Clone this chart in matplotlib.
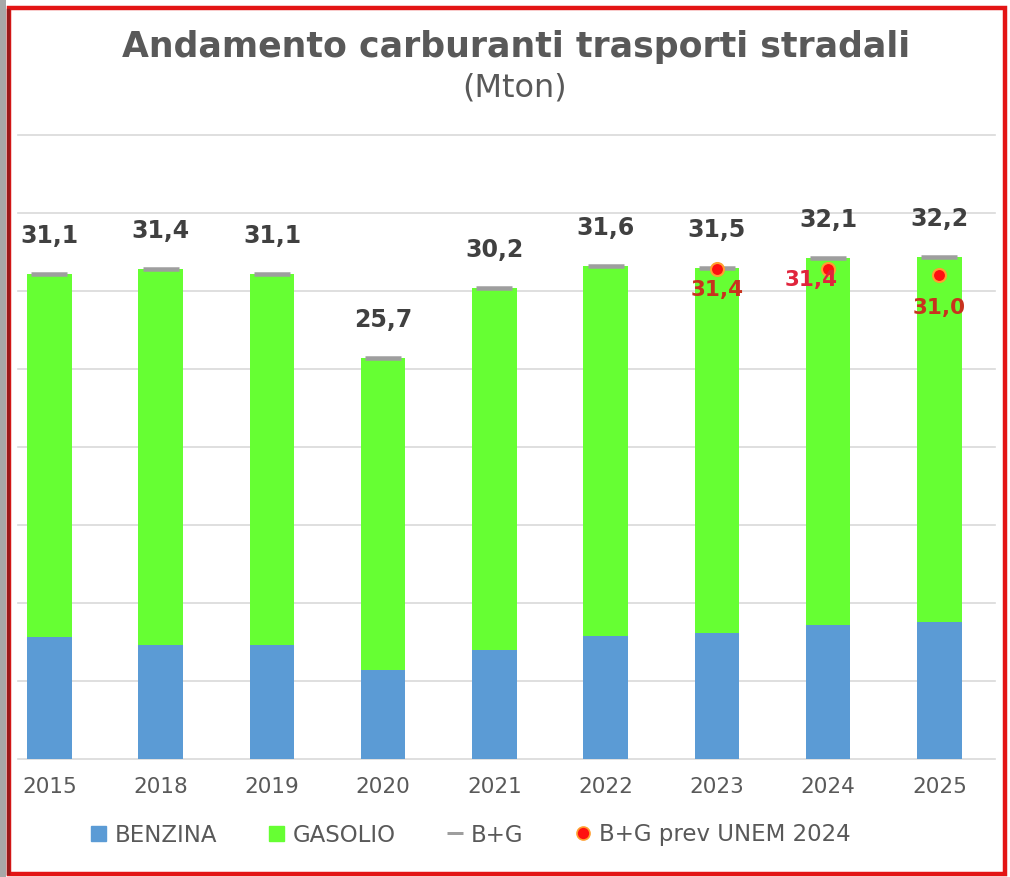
import matplotlib
matplotlib.use("Agg")
import matplotlib.pyplot as plt
from matplotlib.lines import Line2D
from matplotlib.patches import Rectangle
import numpy as np

# ---- data ----
years = ["2015", "2018", "2019", "2020", "2021", "2022", "2023", "2024", "2025"]
benzina = [7.8, 7.3, 7.3, 5.7, 7.0, 7.9, 8.1, 8.6, 8.8]
totale_bg = [31.1, 31.4, 31.1, 25.7, 30.2, 31.6, 31.5, 32.1, 32.2]
gasolio = [t - b for t, b in zip(totale_bg, benzina)]
prev_years = ["2023", "2024", "2025"]
prev_unem = [31.4, 31.4, 31.0]

title = "Andamento carburanti trasporti stradali"
subtitle = "(Mton)"
legend_labels = ["BENZINA", "GASOLIO", "B+G", "B+G prev UNEM 2024"]

# ---- styles ----
C_BLUE = "#5B9BD5"
C_GREEN = "#66FF33"
C_GREY = "#9E9E9E"
C_TEXT = "#595959"
C_LABEL = "#404040"
C_RED = "#FF1010"
C_REDTXT = "#C8321E"
C_GRID = "#D9D9D9"

W, H = 1010, 877
DPI = 100
PX = 72.0 / DPI  # points per pixel

fig = plt.figure(figsize=(W / DPI, H / DPI), dpi=DPI)
fig.patch.set_facecolor("white")

def fx(px):
    return px / W

def fy(py):
    return 1 - py / H

ax = fig.add_axes([fx(18), fy(759), fx(995) - fx(18), fy(135) - fy(759)])
ax.set_facecolor("white")

x = np.arange(len(years))
bw = 0.40

for v in range(0, 45, 5):
    ax.axhline(v, color=C_GRID, lw=1.2, zorder=0, clip_on=False)

ax.bar(x, benzina, width=bw, color=C_BLUE, zorder=2)
ax.bar(x, gasolio, width=bw, bottom=benzina, color=C_GREEN, zorder=2)
ax.plot(x, totale_bg, linestyle="none", marker="_", markersize=36 * PX,
        markeredgewidth=4.5 * PX, color=C_GREY, zorder=3)

px_idx = [years.index(y) for y in prev_years]
ax.plot(px_idx, prev_unem, linestyle="none", marker="o", markersize=13 * PX,
        markerfacecolor=C_RED, markeredgecolor="#FFA030", markeredgewidth=1.5,
        zorder=5)

for xi, t in zip(x, totale_bg):
    ax.annotate(f"{t:.1f}".replace(".", ","), (xi, t), xytext=(0, 38 * PX),
                textcoords="offset points", ha="center", va="center",
                fontsize=17, fontweight="bold", color=C_LABEL,
                family="DejaVu Sans", zorder=6)

red_offsets = [(0, -21), (-17, -11), (0, -33)]
red_colors = [C_REDTXT, "#E0243C", C_REDTXT]
for xi, v, (dx, dy), c in zip(px_idx, prev_unem, red_offsets, red_colors):
    ax.annotate(f"{v:.1f}".replace(".", ","), (xi, v), xytext=(dx * PX, dy * PX),
                textcoords="offset points", ha="center", va="center",
                fontsize=15.5, fontweight="bold", color=c,
                family="DejaVu Sans", zorder=6)

ax.set_xlim(-0.283, 8.50)
ax.set_ylim(0, 40)
ax.set_xticks(x)
ax.set_xticklabels(years, fontsize=15.5, color=C_TEXT, family="DejaVu Sans")
ax.set_yticks([])
ax.tick_params(axis="x", length=0, pad=13)
for s in ax.spines.values():
    s.set_visible(False)

# titles
fig.text(fx(516), fy(47), title, ha="center", va="center", fontsize=25,
         fontweight="bold", color=C_TEXT, family="DejaVu Sans")
fig.text(fx(515), fy(88), subtitle, ha="center", va="center", fontsize=23,
         color=C_TEXT, family="DejaVu Sans")

# legend
handles = [
    Line2D([], [], linestyle="none", marker="s", markersize=15 * PX,
           markerfacecolor=C_BLUE, markeredgecolor=C_BLUE),
    Line2D([], [], linestyle="none", marker="s", markersize=15 * PX,
           markerfacecolor=C_GREEN, markeredgecolor=C_GREEN),
    Line2D([], [], linestyle="none", marker="_", markersize=16 * PX,
           markeredgewidth=3 * PX, color=C_GREY),
    Line2D([], [], linestyle="none", marker="o", markersize=13 * PX,
           markerfacecolor=C_RED, markeredgecolor="#FFA030", markeredgewidth=1.2),
]
leg = fig.legend(handles, legend_labels, loc="center", bbox_to_anchor=(fx(470), fy(835)),
                 ncol=4, frameon=False, handlelength=0.8,
                 handletextpad=0.3, columnspacing=2.2,
                 prop={"family": "DejaVu Sans", "size": 16.5})
for t in leg.get_texts():
    t.set_color(C_TEXT)

# borders
fig.patches.append(Rectangle((0, 0), fx(6), 1, transform=fig.transFigure,
                             facecolor="#A8A8A8", edgecolor="none", zorder=1))
fig.patches.append(Rectangle((fx(8.5), fy(873.5)), fx(1004.5) - fx(8.5), fy(8.5) - fy(873.5),
                             transform=fig.transFigure, facecolor="none",
                             edgecolor="#E31515", linewidth=3.2,
                             zorder=2))
fig.lines.append(Line2D([fx(8), fx(8)], [fy(10), fy(873)], transform=fig.transFigure,
                        color="#9A1A1A", linewidth=2.5, zorder=3))

fig.savefig("out.png", dpi=DPI, facecolor="white")
